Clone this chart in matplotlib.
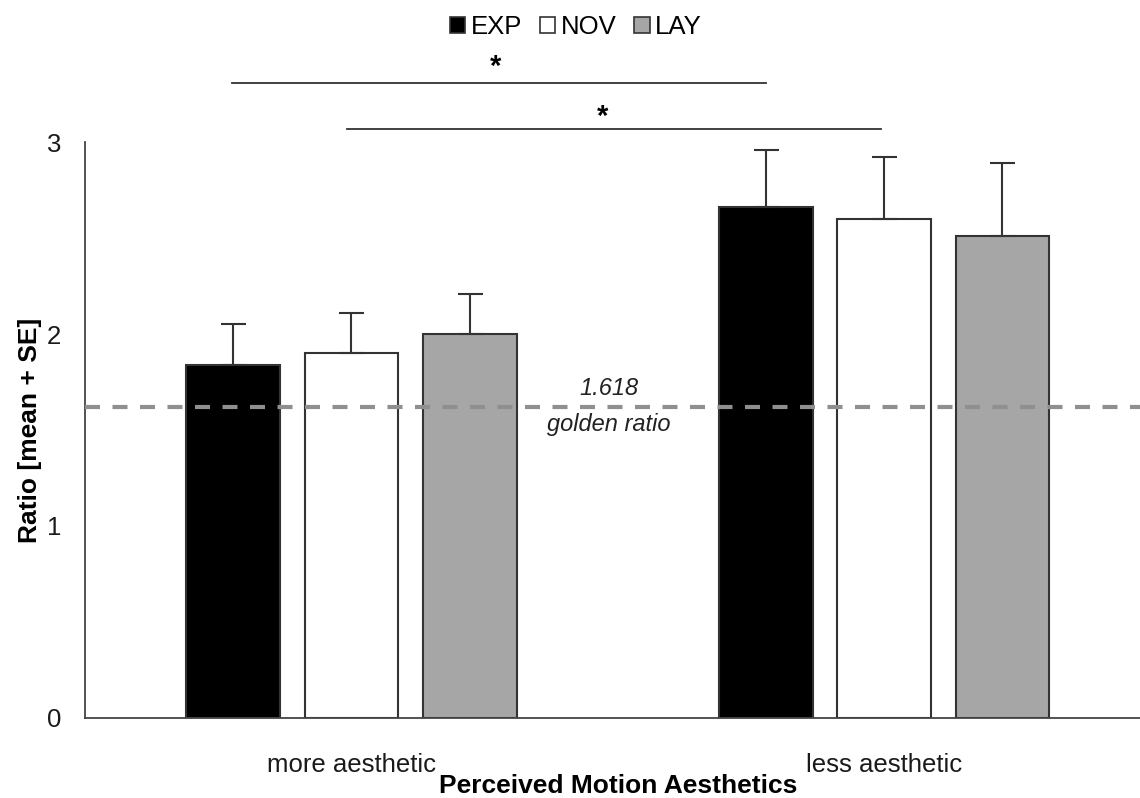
import numpy as np
import matplotlib.pyplot as plt
from matplotlib.patches import Patch

plt.rcParams['font.family'] = ['Liberation Sans', 'DejaVu Sans']

# ------------------------------------------------------------
# data
categories = ['more aesthetic', 'less aesthetic']
groups = ['EXP', 'NOV', 'LAY']
means = {'EXP': [1.84, 2.66],
         'NOV': [1.90, 2.60],
         'LAY': [2.00, 2.51]}
se = {'EXP': [0.21, 0.30],
      'NOV': [0.21, 0.32],
      'LAY': [0.21, 0.38]}
golden = 1.618
# significance brackets: (x start, x end, y, asterisk x, asterisk y)
sig_lines = [(-0.224, 0.778, 3.31, 0.270, 3.316),
             (-0.008, 0.994, 3.07, 0.471, 3.056)]

colors = {'EXP': 'black', 'NOV': 'white', 'LAY': '#a6a6a6'}

# ------------------------------------------------------------
fig = plt.figure(figsize=(11.4, 7.98), dpi=100)
ax = fig.add_axes([0.0746, 0.1003, 0.9346, 0.7217])

x = np.arange(len(categories))
width = 0.176
step = 0.222
for i, g in enumerate(groups):
    ax.bar(x + (i - 1) * step, means[g], width, color=colors[g],
           edgecolor='#333333', linewidth=1.5, zorder=2,
           yerr=[np.zeros(2), se[g]],
           error_kw=dict(ecolor='#333333', elinewidth=1.5, capsize=9,
                         capthick=1.5))

ax.axhline(golden, color='#8f8f8f', ls=(0, (3.6, 3.0)), lw=3, zorder=3)
ax.text(0.483, golden + 0.04, '1.618', ha='center', va='bottom',
        fontsize=17, style='italic', color='#222222')
ax.text(0.483, golden - 0.03, 'golden ratio', ha='center', va='top',
        fontsize=17, style='italic', color='#222222')

for x0, x1, y, xs, ys in sig_lines:
    ax.plot([x0, x1], [y, y], color='#333333', lw=1.3, clip_on=False)
    ax.text(xs, ys, '*', ha='center', va='bottom',
            fontsize=21, fontweight='bold', clip_on=False)

ax.set_xlim(-0.5, 1.5)
ax.set_ylim(0, 3)
ax.set_yticks([0, 1, 2, 3])
ax.set_xticks(x)
ax.set_xticklabels(categories)
ax.tick_params(length=0, labelsize=18.5, colors='#1a1a1a')
ax.tick_params(axis='x', pad=25)
ax.tick_params(axis='y', pad=17)
for s in ['top', 'right']:
    ax.spines[s].set_visible(False)
for s in ['left', 'bottom']:
    ax.spines[s].set_color('#444444')
    ax.spines[s].set_linewidth(1.3)

ax.set_xlabel('Perceived Motion Aesthetics', fontsize=19, fontweight='bold')
ax.xaxis.set_label_coords(0.5, -0.097)
ax.set_ylabel('Ratio [mean + SE]', fontsize=19, fontweight='bold',
              labelpad=4)

handles = [Patch(facecolor=colors[g], edgecolor='#333333', lw=1.2)
           for g in groups]
fig.legend(handles, groups, loc='center', bbox_to_anchor=(0.505, 0.966),
           ncol=3, frameon=False, fontsize=18.5, handlelength=0.6,
           handleheight=0.6, handletextpad=0.2, columnspacing=0.7)

fig.savefig('out.png', dpi=100)
